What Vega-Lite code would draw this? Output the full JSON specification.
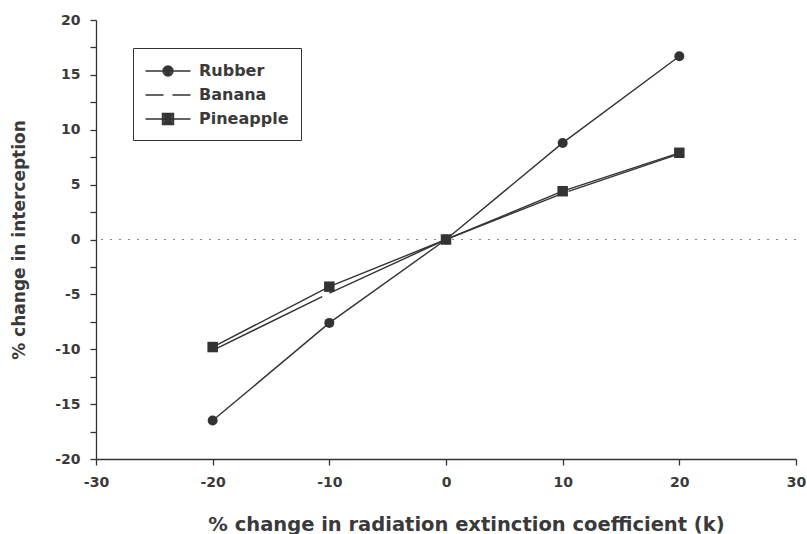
{
  "$schema": "https://vega.github.io/schema/vega-lite/v6.json",
  "width": 700,
  "height": 439,
  "autosize": "none",
  "padding": {"left": 96, "top": 20, "right": 11, "bottom": 75},
  "background": "white",
  "config": {
    "view": {"stroke": null},
    "font": "DejaVu Sans",
    "axis": {
      "domainColor": "#333",
      "tickColor": "#333",
      "labelColor": "#3a3a3a",
      "titleColor": "#3a3a3a",
      "labelFont": "DejaVu Sans",
      "titleFont": "DejaVu Sans",
      "grid": false,
      "labelFontSize": 14,
      "labelFontWeight": "bold",
      "titleFontWeight": "bold",
      "domainWidth": 1.3,
      "tickWidth": 1.3,
      "tickSize": 6
    }
  },
  "data": {
    "values": [
      {"series": "Rubber", "x": -20, "y": -16.5},
      {"series": "Rubber", "x": -10, "y": -7.6},
      {"series": "Rubber", "x": 0, "y": 0},
      {"series": "Rubber", "x": 10, "y": 8.8},
      {"series": "Rubber", "x": 20, "y": 16.7},
      {"series": "Banana", "x": -20, "y": -10.1},
      {"series": "Banana", "x": -10, "y": -4.9},
      {"series": "Banana", "x": 0, "y": 0},
      {"series": "Banana", "x": 10, "y": 4.2},
      {"series": "Banana", "x": 20, "y": 7.8},
      {"series": "Pineapple", "x": -20, "y": -9.8},
      {"series": "Pineapple", "x": -10, "y": -4.3},
      {"series": "Pineapple", "x": 0, "y": 0},
      {"series": "Pineapple", "x": 10, "y": 4.4},
      {"series": "Pineapple", "x": 20, "y": 7.9}
    ]
  },
  "encoding": {
    "x": {
      "field": "x", "type": "quantitative",
      "scale": {"domain": [-30, 30], "nice": false, "zero": false},
      "axis": {
        "values": [-30, -20, -10, 0, 10, 20, 30],
        "labelExpr": "'' + datum.value",
        "title": "% change in radiation extinction coefficient (k)",
        "titleFontSize": 19.5,
        "titlePadding": 26,
        "titleX": 370,
        "labelPadding": 10,
        "labelFlush": false
      }
    },
    "y": {
      "field": "y", "type": "quantitative",
      "scale": {"domain": [-20, 20], "nice": false},
      "axis": {
        "values": [-20, -17.5, -15, -12.5, -10, -7.5, -5, -2.5, 0, 2.5, 5, 7.5, 10, 12.5, 15, 17.5, 20],
        "labelExpr": "datum.value % 5 === 0 ? '' + datum.value : ''",
        "title": "% change in interception",
        "titleFontSize": 17,
        "titlePadding": 26,
        "labelPadding": 10
      }
    }
  },
  "layer": [
    {
      "mark": {"type": "rule", "color": "#888", "strokeDash": [2, 7], "strokeWidth": 1.2},
      "encoding": {"x": null, "y": {"datum": 0}}
    },
    {
      "transform": [{"filter": "datum.series !== 'Banana'"}],
      "mark": {"type": "line", "color": "#333", "strokeWidth": 1.4},
      "encoding": {
        "detail": {"field": "series"},
        "order": {"field": "x"}
      }
    },
    {
      "transform": [{"filter": "datum.series === 'Banana'"}],
      "mark": {"type": "line", "color": "#333", "strokeWidth": 1.4, "strokeDash": [122, 8]},
      "encoding": {
        "order": {"field": "x"}
      }
    },
    {
      "mark": {"type": "point", "filled": false, "color": "#333", "opacity": 0},
      "encoding": {
        "shape": {
          "field": "series", "type": "nominal",
          "scale": {
            "domain": ["Rubber", "Banana", "Pineapple"],
            "range": [
              "M-2.25,0H2.25M-0.5,0A0.5,0.5 0 1,1 0.5,0A0.5,0.5 0 1,1 -0.5,0ZM-0.35,0A0.35,0.35 0 1,1 0.35,0A0.35,0.35 0 1,1 -0.35,0ZM-0.2,0A0.2,0.2 0 1,1 0.2,0A0.2,0.2 0 1,1 -0.2,0ZM-0.07,0A0.07,0.07 0 1,1 0.07,0A0.07,0.07 0 1,1 -0.07,0Z",
              "M-2.25,0H-0.45M0.45,0H2.25",
              "M-2.25,0H2.25M-0.55,-0.55H0.55V0.55H-0.55ZM-0.4,-0.4H0.4V0.4H-0.4ZM-0.25,-0.25H0.25V0.25H-0.25ZM-0.1,-0.1H0.1V0.1H-0.1Z"
            ]
          },
          "legend": {
            "title": null,
            "orient": "none",
            "legendX": 37,
            "legendY": 28,
            "strokeColor": "#333",
            "fillColor": "white",
            "padding": 12,
            "symbolSize": 400,
            "symbolOffset": 12,
            "symbolOpacity": 1,
            "symbolFillColor": "#333",
            "symbolStrokeColor": "#333",
            "symbolStrokeWidth": 1.4,
            "labelFontSize": 16,
            "labelFontWeight": "bold",
            "labelFont": "DejaVu Sans",
            "labelColor": "#3a3a3a",
            "labelOffset": 20,
            "rowPadding": 5
          }
        }
      }
    },
    {
      "transform": [{"filter": "datum.series === 'Rubber'"}],
      "mark": {"type": "point", "filled": true, "color": "#333", "opacity": 1, "shape": "circle", "size": 100}
    },
    {
      "transform": [{"filter": "datum.series === 'Pineapple'"}],
      "mark": {"type": "point", "filled": true, "color": "#333", "opacity": 1, "shape": "square", "size": 110}
    }
  ]
}
